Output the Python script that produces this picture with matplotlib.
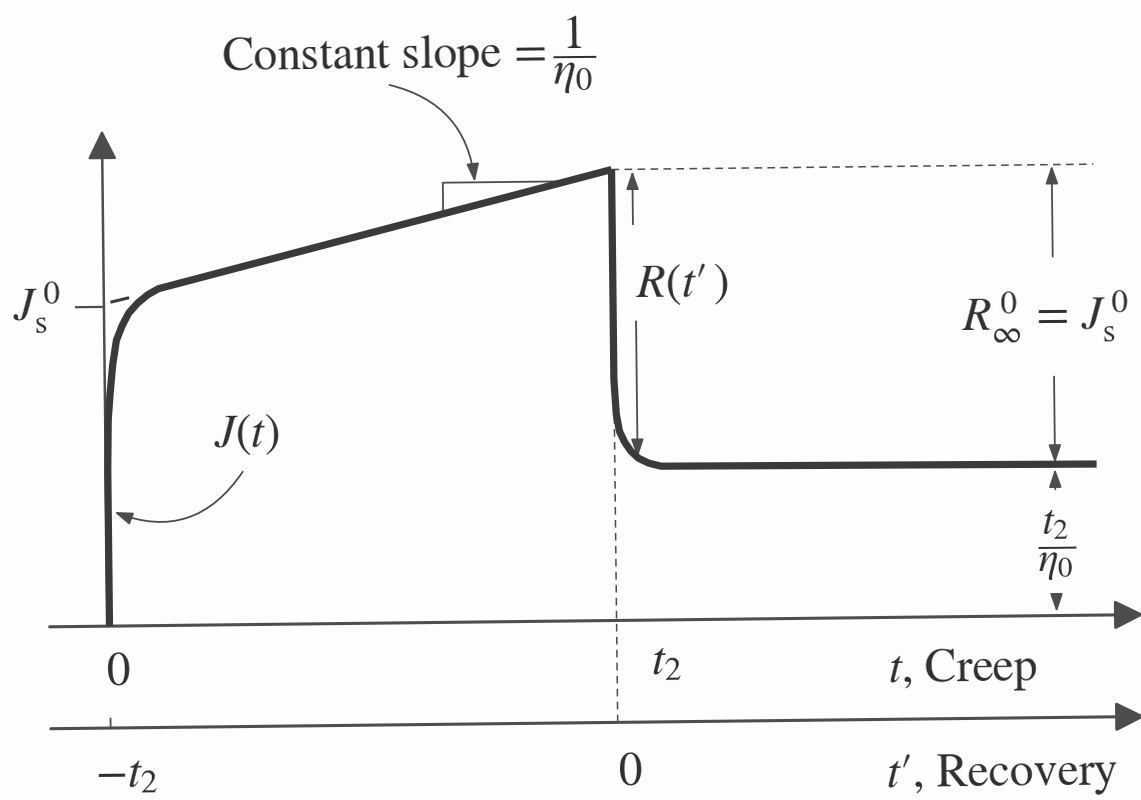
import matplotlib
matplotlib.use("Agg")
import matplotlib.pyplot as plt
from matplotlib.patches import FancyArrowPatch
from matplotlib.transforms import Affine2D

plt.rcParams['font.family'] = 'STIXGeneral'
plt.rcParams['mathtext.fontset'] = 'stix'

# creep compliance J(t); time in units of t2, compliance scaled so J(t2) = 1
creep_t = [0.0, 0.0, 0.002, 0.006, 0.012, 0.020, 0.032, 0.045, 0.063, 0.083, 0.104, 1.0]
creep_J = [0.0, 0.346, 0.457, 0.512, 0.579, 0.634, 0.667, 0.694, 0.716, 0.734, 0.747, 1.0]

# recoverable part after unloading, t' = t - t2
recov_t = [0.0, 0.0, 0.004, 0.010, 0.020, 0.032, 0.047, 0.067, 0.091, 0.95]
recov_J = [1.0, 0.534, 0.457, 0.419, 0.395, 0.375, 0.359, 0.348, 0.341, 0.335]

t2 = 1.0
J_peak = 1.0
Js0 = 0.708          # steady-state recoverable compliance
perm_set = 0.335     # t2 / eta0, unrecovered strain
recov_axis = -0.226  # level of the t' axis

# slope triangle on the linear part
tri_t = [0.667, 0.667, 0.92]
tri_J = [0.905, 0.975, 0.975]

ink = '#3a3a3a'
thin = '#4d4d4d'

fig = plt.figure(figsize=(11.41, 8.0), dpi=100)
fig.patch.set_facecolor('#fdfdfd')
ax = fig.add_axes([0, 0, 1, 1])
ax.set_xlim(-0.211, 2.039)
ax.set_ylim(-0.397, 1.377)
ax.axis('off')

# the printed page sits slightly skewed
tilt = 0.64
T = ax.transData + Affine2D().rotate_deg_around(570.5, 400, tilt)


def arrow(p0, p1, style, lw=1.3, color=thin, rad=0.0, scale=10):
    a = FancyArrowPatch(p0, p1, arrowstyle=style, mutation_scale=scale,
                        connectionstyle=f"arc3,rad={rad}", lw=lw,
                        color=color, shrinkA=0, shrinkB=0, transform=T)
    ax.add_patch(a)


def label(x, y, s, ha='left', va='baseline', size=34):
    ax.text(x, y, s, ha=ha, va=va, fontsize=size, color='#2e2e2e',
            transform=T, rotation=tilt, rotation_mode='anchor')


big_head = "-|>,head_length=1.8,head_width=0.9"
small_head = "-|>,head_length=1.1,head_width=0.38"

# axes
arrow((-0.118, 0), (2.04, 0), big_head, lw=2.2, color=thin)
arrow((-0.118, recov_axis), (2.04, recov_axis), big_head, lw=2.2, color=thin)
arrow((-0.004, 0), (-0.004, 1.10), big_head, lw=1.8, color=thin)
ax.plot([0, 0], [recov_axis, recov_axis + 0.021], color=thin, lw=1.3, transform=T)

# guide lines at t2
ax.plot([t2, t2], [recov_axis, J_peak], color=thin, lw=1.1, ls=(0, (5, 3.5)), transform=T)
ax.plot([t2, t2 + 0.95], [J_peak, J_peak], color=thin, lw=1.1, ls=(0, (5, 3.5)), transform=T)

# Js0 tick and extrapolation dash
ax.plot([-0.059, -0.008], [Js0, Js0], color=thin, lw=1.6, transform=T)
ax.plot([0.012, 0.043], [0.719, 0.727], color=ink, lw=2.2, transform=T)

# slope triangle
ax.plot(tri_t, tri_J, color=thin, lw=1.3, transform=T)

# creep and recovery curves
ax.plot(creep_t, creep_J, color=ink, lw=5.2, solid_joinstyle='round',
        solid_capstyle='butt', transform=T)
ax.plot([t2 + v for v in recov_t], recov_J, color=ink, lw=5.2,
        solid_joinstyle='round', solid_capstyle='butt', transform=T)

# annotation arrows
arrow((0.564, 1.193), (0.730, 0.976), small_head, rad=-0.35)
arrow((0.266, 0.339), (0.012, 0.253), small_head, rad=-0.4)
arrow((1.041, 0.878), (1.041, 0.996), small_head)
arrow((1.045, 0.663), (1.045, 0.361), small_head)
arrow((1.868, 0.796), (1.868, 0.998), small_head)
arrow((1.868, 0.530), (1.868, 0.338), small_head)
arrow((1.868, 0.280), (1.868, 0.325), small_head)
arrow((1.868, 0.045), (1.868, 0.008), small_head)

# labels
label(0.233, 1.228, r'Constant slope$\,=\dfrac{1}{\eta_0}$')
label(-0.089, 0.679, r'$J_\mathrm{s}^{\,0}$', ha='right')
label(0.209, 0.395, r'$J(t)$')
label(1.045, 0.718, r"$R(t\prime\,)$")
label(1.688, 0.632, r'$R_\infty^{\,0}\,=\,J_\mathrm{s}^{\,0}$')
label(1.870, 0.156, r'$\dfrac{t_2}{\eta_0}$', ha='center', va='center', size=30)

label(0.016, -0.131, '0', ha='center')
label(1.067, -0.122, r'$t_2$')
label(1.533, -0.144, r'$t$, Creep')
label(-0.032, -0.357, r'$-t_2$')
label(1.024, -0.367, '0', ha='center')
label(1.527, -0.377, r"$t\prime$, Recovery")

fig.savefig('out.png', dpi=100, facecolor=fig.get_facecolor())
